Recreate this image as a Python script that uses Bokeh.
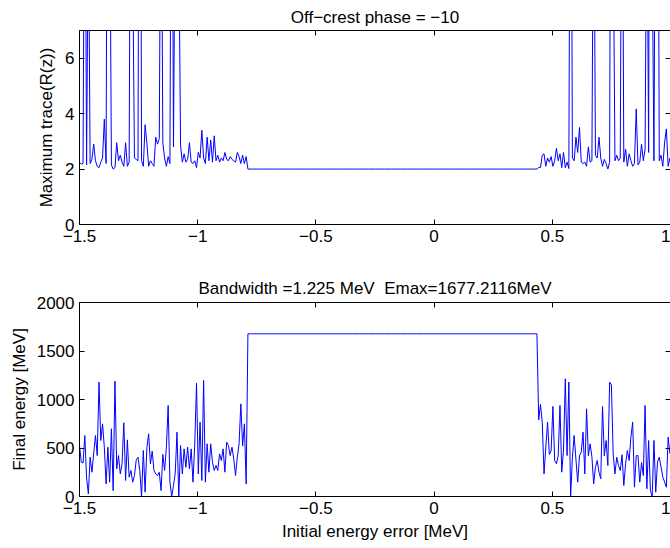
import numpy as np
from bokeh.plotting import figure
from bokeh.models import Range1d, FixedTicker, LinearAxis, ColumnDataSource, CustomJSTickFormatter
from bokeh.layouts import column
from bokeh.embed import file_html
from bokeh.resources import INLINE

# ---------------- data ----------------
x_first = -1.5          # first initial energy error [MeV]
x_step = 0.0075         # sampling step [MeV]
n_points = 334          # samples shown (-1.5 ... 1.0)

phase = -10
bandwidth = 1.225
emax = 1677.2116

# Maximum trace(R(z)), unstable region left of the plateau
trace_left = [2.24, 2.18, 2.2, 16.0, 2.15, 11.5, 2.2, 2.35, 2.9, 2.3,
              2.1, 2.05, 2.25, 2.4, 3.8, 2.2, 22.0, 13.0, 2.15, 2.0,
              2.05, 2.95, 2.3, 2.5, 2.25, 2.1, 2.95, 2.1, 2.25, 18.0,
              9.5, 2.4, 2.35, 2.3, 27.0, 2.3, 2.1, 3.6, 2.95, 2.1,
              2.3, 2.2, 2.1, 3.15, 2.9, 3.1, 15.0, 2.95, 2.4, 2.1,
              2.45, 2.2, 19.0, 2.8, 12.0, 35.0, 10.5, 2.85, 2.25, 2.55,
              2.25, 2.35, 2.95, 2.25, 2.2, 2.3, 2.05, 2.6, 2.4, 3.4,
              2.4, 2.2, 3.15, 2.3, 3.05, 2.25, 3.2, 2.3, 2.5, 2.25,
              2.4, 2.3, 2.6, 2.35, 2.3, 2.45, 2.35, 2.3, 2.25, 2.6,
              2.45, 2.2, 2.5, 2.2, 2.45]
trace_plateau = 2.0
n_plateau = 164
trace_right = [2.06, 2.06, 2.5, 2.55, 2.1, 2.4, 2.25, 2.45, 2.1, 2.3,
               2.75, 2.3, 2.55, 2.05, 2.6, 2.05, 2.25, 2.02, 20.0, 2.4,
               2.3, 3.15, 2.6, 3.5, 2.25, 2.2, 2.25, 2.1, 2.8, 2.25,
               2.3, 14.0, 2.5, 2.4, 3.15, 2.4, 2.1, 2.35, 2.2, 2.0,
               2.25, 25.0, 11.0, 2.3, 2.5, 2.3, 2.4, 17.0, 2.25, 2.72,
               2.1, 2.55, 2.3, 2.1, 2.2, 4.17, 2.15, 2.25, 2.9, 2.3,
               2.72, 13.0, 2.6, 30.0, 9.8, 2.3, 16.0, 21.0, 2.3, 2.5,
               2.1, 2.95, 3.45, 2.1, 2.4]

# Final energy [MeV]
energy_left = [525, 354, 345, 628, 190, 27, 405, 250, 440, 629,
               422, 1179, 577, 749, 508, 130, 508, 148, 698, 60,
               1189, 285, 422, 233, 337, 760, 165, 584, 199, 268,
               148, 216, 378, 405, 268, 0, 474, 45, 501, 646,
               337, 467, 268, 233, 216, 250, 62, 433, 268, 508,
               938, 148, 0, 113, 244, 663, 0, 525, 233, 491,
               302, 508, 285, 491, 148, 536, 1168, 233, 766, 165,
               1196, 148, 543, 251, 543, 354, 268, 320, 268, 440,
               371, 491, 251, 560, 525, 422, 508, 388, 216, 405,
               543, 955, 520, 749, 130]
energy_plateau = emax
energy_right = [790, 950, 766, 233, 508, 766, 433, 470, 928, 371,
                337, 420, 938, 251, 480, 1213, 422, 1179, 0, 400,
                629, 380, 148, 420, 457, 663, 233, 904, 420, 543,
                410, 130, 300, 371, 250, 182, 928, 420, 577, 320,
                1179, 1150, 440, 233, 405, 320, 268, 430, 113, 337,
                474, 371, 612, 766, 96, 420, 422, 148, 350, 216,
                938, 80, 577, 62, 0, 577, 45, 354, 405, 302,
                199, 150, 96, 612, 440]

x_ticks = [-1.5, -1.0, -0.5, 0.0, 0.5, 1.0]
trace_ticks = [0, 2, 4, 6]
energy_ticks = [0, 500, 1000, 1500, 2000]

# ---------------- build ----------------
x = np.round(x_first + x_step * np.arange(n_points), 4)
trace = np.array(trace_left + [trace_plateau] * n_plateau + trace_right)
energy = np.array(energy_left + [energy_plateau] * n_plateau + energy_right, dtype=float)

FONT = "Liberation Sans"
FS = "17px"
X_VIEW = (-1.5, 1.0)

minus_fmt = CustomJSTickFormatter(code="""
    const v = Math.round(tick * 1000) / 1000;
    return v < 0 ? '\\u2212' + String(-v) : String(v);
""")


def hidden_axis(ticks, line=True):
    return LinearAxis(ticker=FixedTicker(ticks=ticks), major_label_text_font_size="1px",
                      major_label_text_color=None, major_label_standoff=0,
                      major_tick_in=5, major_tick_out=0, minor_tick_line_color=None,
                      axis_line_color="black" if line else None,
                      major_tick_line_color="black")


def make(title, height, yr, yticks, ylabel, xlabel, top_border, bottom_border,
         ylab_standoff, title_standoff):
    p = figure(width=670, height=height, x_range=Range1d(*X_VIEW), y_range=Range1d(*yr),
               output_backend="svg", toolbar_location=None,
               min_border_left=79, min_border_right=0,
               min_border_top=top_border, min_border_bottom=bottom_border,
               title=title)
    p.title.align = "center"
    p.title.standoff = title_standoff
    p.title.text_font = FONT
    p.title.text_font_size = FS
    p.title.text_font_style = "normal"
    p.title.text_color = "black"
    p.outline_line_color = None
    p.grid.visible = False
    p.background_fill_color = "white"
    p.border_fill_color = "white"

    for ax in (p.xaxis[0], p.yaxis[0]):
        ax.axis_line_color = "black"
        ax.axis_line_width = 1
        ax.major_tick_line_color = "black"
        ax.major_tick_in = 5
        ax.major_tick_out = 0
        ax.minor_tick_line_color = None
        ax.major_label_text_font = FONT
        ax.major_label_text_font_size = FS
        ax.major_label_text_color = "black"
        ax.major_label_standoff = 5
        ax.axis_label_text_font = FONT
        ax.axis_label_text_font_size = FS
        ax.axis_label_text_font_style = "normal"
        ax.axis_label_text_color = "black"

    p.xaxis[0].ticker = FixedTicker(ticks=x_ticks)
    p.xaxis[0].formatter = minus_fmt
    p.yaxis[0].ticker = FixedTicker(ticks=yticks)
    p.yaxis[0].axis_label = ylabel
    p.yaxis[0].axis_label_standoff = ylab_standoff
    if xlabel:
        p.xaxis[0].axis_label = xlabel
        p.xaxis[0].axis_label_standoff = 5

    p.add_layout(hidden_axis(x_ticks), "above")
    p.add_layout(hidden_axis(yticks, line=False), "right")
    return p


p1 = make(f"Off\u2212crest phase = \u2212{abs(phase)}", 262, (0, 7), trace_ticks,
          "Maximum trace(R(z))", None, 30, 38, 6, 7)
p1.line(x="x", y="y", source=ColumnDataSource(dict(x=x, y=trace)),
        line_color="#0000ff", line_width=1)

p2 = make(f"Bandwidth ={bandwidth} MeV\u00a0\u00a0Emax={emax}MeV", 286, (0, 2000), energy_ticks,
          "Final energy [MeV]", "Initial energy error [MeV]", 40, 52, 5, 10)
p2.line(x="x", y="y", source=ColumnDataSource(dict(x=x, y=energy)),
        line_color="#0000ff", line_width=1)

layout = column(p1, p2)
open("out.html", "w").write(file_html(layout, INLINE))
